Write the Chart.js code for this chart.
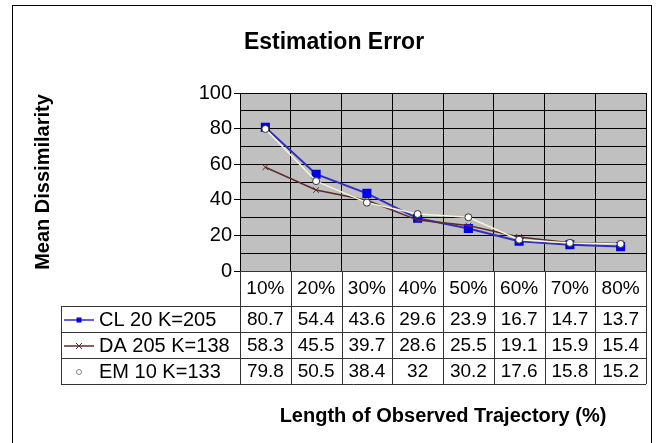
<!DOCTYPE html>
<html lang="en">
<head>
    <meta charset="UTF-8">
    <title>Estimation Error</title>
    <script src="https://cdn.jsdelivr.net/npm/chart.js"></script>
    <style>
        html, body { margin: 0; padding: 0; background: #fff; }
        #wrap { width: 659px; height: 443px; }
    </style>
</head>
<body>
    <div id="wrap"><canvas id="chart" width="659" height="443"></canvas></div>

    <script>
        // Data
        const categories = ['10%', '20%', '30%', '40%', '50%', '60%', '70%', '80%'];
        const seriesNames = ['CL 20 K=205', 'DA 205 K=138', 'EM 10 K=133'];
        const clValues = [80.7, 54.4, 43.6, 29.6, 23.9, 16.7, 14.7, 13.7];
        const daValues = [58.3, 45.5, 39.7, 28.6, 25.5, 19.1, 15.9, 15.4];
        const emValues = [79.8, 50.5, 38.4, 32, 30.2, 17.6, 15.8, 15.2];
        const yTicks = [0, 20, 40, 60, 80, 100];

        const FONT = 'Liberation Sans, Arial, sans-serif';
        const TABLE_LEFT = 61;
        const HEADER_H = 35;
        const ROW_H = 26;

        // page background, outer frame, grey plot area, chart title
        const framePlugin = {
            id: 'frame',
            beforeDraw(chart) {
                const { ctx, chartArea: a } = chart;
                ctx.save();
                ctx.fillStyle = '#fff';
                ctx.fillRect(0, 0, chart.width, chart.height);
                ctx.strokeStyle = '#000';
                ctx.lineWidth = 1;
                ctx.strokeRect(12.5, 5.5, 639, 460);
                ctx.fillStyle = '#c0c0c0';
                ctx.fillRect(a.left, a.top, a.right - a.left, a.bottom - a.top);
                ctx.fillStyle = '#000';
                ctx.font = 'bold 23px ' + FONT;
                ctx.textAlign = 'center';
                ctx.textBaseline = 'middle';
                ctx.fillText('Estimation Error', 334, 43);
                ctx.restore();
            }
        };

        // data table under the plot, with legend keys in the first column
        const tablePlugin = {
            id: 'dataTable',
            afterDraw(chart) {
                const { ctx, chartArea: a } = chart;
                const x = chart.scales.x;
                const colW = (a.right - a.left) / categories.length;
                const top = a.bottom;
                const rowsTop = top + HEADER_H;
                const bottom = rowsTop + ROW_H * seriesNames.length;
                const rows = [clValues, daValues, emValues];

                ctx.save();
                ctx.strokeStyle = '#333';
                ctx.lineWidth = 1;
                ctx.beginPath();
                ctx.moveTo(a.left, Math.round(top) + 0.5); ctx.lineTo(a.right, Math.round(top) + 0.5);
                for (let i = 0; i <= categories.length; i++) {
                    const cx = Math.round(a.left + i * colW) + 0.5;
                    ctx.moveTo(cx, top); ctx.lineTo(cx, bottom);
                }
                for (let r = 0; r <= rows.length; r++) {
                    const ry = Math.round(rowsTop + r * ROW_H) + 0.5;
                    ctx.moveTo(TABLE_LEFT, ry); ctx.lineTo(a.right, ry);
                }
                ctx.moveTo(TABLE_LEFT + 0.5, rowsTop); ctx.lineTo(TABLE_LEFT + 0.5, bottom);
                ctx.stroke();

                ctx.fillStyle = '#000';
                ctx.textBaseline = 'middle';
                rows.forEach((vals, r) => {
                    const cy = rowsTop + r * ROW_H + ROW_H / 2 + 1;
                    ctx.font = '19px ' + FONT;
                    ctx.textAlign = 'center';
                    vals.forEach((v, i) => {
                        ctx.fillText(String(v), x.getPixelForValue(i), cy);
                    });
                    // legend key
                    const ds = chart.data.datasets[r];
                    const kx = 79;
                    ctx.save();
                    if (r < 2) {
                        ctx.strokeStyle = ds.borderColor;
                        ctx.lineWidth = 1.5;
                        ctx.beginPath();
                        ctx.moveTo(64, cy); ctx.lineTo(94, cy);
                        ctx.stroke();
                    }
                    ctx.lineWidth = 1;
                    ctx.beginPath();
                    if (ds.pointStyle === 'rect') {
                        ctx.fillStyle = ds.pointBackgroundColor;
                        ctx.fillRect(kx - 2.5, cy - 2.5, 5, 5);
                    } else if (ds.pointStyle === 'circle') {
                        ctx.fillStyle = '#fff';
                        ctx.strokeStyle = '#888';
                        ctx.arc(kx, cy, 2.5, 0, Math.PI * 2);
                        ctx.fill(); ctx.stroke();
                    } else {
                        ctx.strokeStyle = ds.pointBorderColor;
                        ctx.moveTo(kx - 3, cy - 3); ctx.lineTo(kx + 3, cy + 3);
                        ctx.moveTo(kx + 3, cy - 3); ctx.lineTo(kx - 3, cy + 3);
                        ctx.stroke();
                    }
                    ctx.restore();
                    ctx.font = '20px ' + FONT;
                    ctx.textAlign = 'left';
                    ctx.fillText(seriesNames[r], 99, cy);
                });
                ctx.restore();
            }
        };

        new Chart(document.getElementById('chart'), {
            type: 'line',
            data: {
                labels: categories,
                datasets: [
                    {
                        label: seriesNames[0],
                        data: clValues,
                        borderColor: '#3030c0',
                        borderWidth: 2,
                        pointStyle: 'rect',
                        pointRadius: 5,
                        pointBackgroundColor: '#0000e6',
                        pointBorderColor: '#0000e6',
                        order: 2
                    },
                    {
                        label: seriesNames[1],
                        data: daValues,
                        borderColor: '#5c2c2c',
                        borderWidth: 1.5,
                        pointStyle: 'crossRot',
                        pointRadius: 4,
                        pointBackgroundColor: '#5c2c2c',
                        pointBorderColor: '#5c2c2c',
                        pointBorderWidth: 1,
                        order: 1
                    },
                    {
                        label: seriesNames[2],
                        data: emValues,
                        borderColor: '#f4f4d8',
                        borderWidth: 1.5,
                        pointStyle: 'circle',
                        pointRadius: 3.5,
                        pointBackgroundColor: '#ffffff',
                        pointBorderColor: '#333333',
                        pointBorderWidth: 1,
                        order: 0
                    }
                ]
            },
            options: {
                responsive: false,
                animation: false,
                events: [],
                layout: { padding: { left: 0, right: 13, top: 93, bottom: 0 } },
                plugins: {
                    legend: { display: false },
                    tooltip: { enabled: false },
                    title: { display: false }
                },
                scales: {
                    x: {
                        offset: true,
                        afterFit: s => { s.height = 172; },
                        grid: { color: '#000', offset: true, drawTicks: false },
                        border: { color: '#000' },
                        ticks: {
                            color: '#000',
                            padding: 6,
                            maxRotation: 0,
                            font: { family: FONT, size: 19 }
                        },
                        title: {
                            display: true,
                            text: 'Length of Observed Trajectory (%)',
                            color: '#000',
                            font: { family: FONT, size: 20, weight: 'bold' },
                            padding: { top: 0, bottom: 15 }
                        }
                    },
                    y: {
                        min: 0,
                        max: 100,
                        afterFit: s => { s.width = 240; },
                        afterBuildTicks: s => {
                            const ticks = [];
                            for (let v = 0; v <= 100; v += 10) ticks.push({ value: v });
                            s.ticks = ticks;
                        },
                        grid: {
                            color: '#000',
                            tickLength: 6,
                            tickColor: c => (yTicks.includes(c.tick.value) ? '#000' : 'rgba(0,0,0,0)')
                        },
                        border: { color: '#000' },
                        ticks: {
                            color: '#000',
                            padding: 2,
                            autoSkip: false,
                            font: { family: FONT, size: 20 },
                            callback: v => (yTicks.includes(v) ? v : '')
                        },
                        title: {
                            display: true,
                            text: 'Mean Dissimilarity',
                            color: '#000',
                            font: { family: FONT, size: 20, weight: 'bold' },
                            padding: { top: 31, bottom: 0 }
                        }
                    }
                }
            },
            plugins: [framePlugin, tablePlugin]
        });
    </script>
</body>
</html>
